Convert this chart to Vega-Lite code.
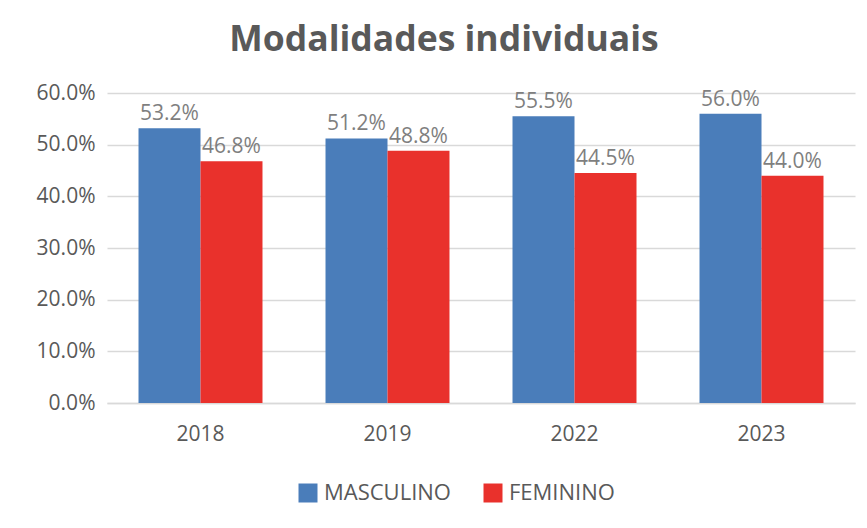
{
  "$schema": "https://vega.github.io/schema/vega-lite/v6.json",
  "width": 748,
  "height": 310,
  "autosize": {"type": "none"},
  "padding": {"left": 107, "top": 93, "right": 12, "bottom": 125},
  "background": "white",
  "title": {
    "text": "Modalidades individuais",
    "font": "Open Sans",
    "fontSize": 35.5,
    "fontWeight": "bold",
    "color": "#595959",
    "anchor": "middle",
    "frame": "group",
    "baseline": "alphabetic",
    "offset": 41,
    "dx": -37,
    "dy": 45
  },
  "data": {
    "values": [
      {"ano": "2018", "sexo": "MASCULINO", "valor": 0.532},
      {"ano": "2018", "sexo": "FEMININO", "valor": 0.468},
      {"ano": "2019", "sexo": "MASCULINO", "valor": 0.512},
      {"ano": "2019", "sexo": "FEMININO", "valor": 0.488},
      {"ano": "2022", "sexo": "MASCULINO", "valor": 0.555},
      {"ano": "2022", "sexo": "FEMININO", "valor": 0.445},
      {"ano": "2023", "sexo": "MASCULINO", "valor": 0.56},
      {"ano": "2023", "sexo": "FEMININO", "valor": 0.44}
    ]
  },
  "encoding": {
    "x": {
      "field": "ano",
      "type": "nominal",
      "scale": {"paddingInner": 0.337, "paddingOuter": 0.1685},
      "axis": {
        "title": null,
        "labelAngle": 0,
        "ticks": false,
        "labelPadding": 20,
        "labelFont": "Open Sans",
        "labelFontSize": 21,
        "labelColor": "#595959",
        "domainColor": "#D9D9D9",
        "domainWidth": 1.5,
        "grid": false
      }
    },
    "xOffset": {
      "field": "sexo",
      "type": "nominal",
      "scale": {"domain": ["MASCULINO", "FEMININO"], "paddingInner": 0, "paddingOuter": 0}
    },
    "y": {
      "field": "valor",
      "type": "quantitative",
      "scale": {"domain": [0, 0.6], "nice": false},
      "axis": {
        "title": null,
        "values": [0, 0.1, 0.2, 0.3, 0.4, 0.5, 0.6],
        "format": ".1%",
        "ticks": false,
        "domain": false,
        "labelPadding": 12,
        "labelFont": "Open Sans",
        "labelFontSize": 21,
        "labelColor": "#595959",
        "gridColor": "#D9D9D9",
        "gridWidth": 1.5
      }
    }
  },
  "layer": [
    {
      "mark": {"type": "bar"},
      "encoding": {
        "color": {
          "field": "sexo",
          "type": "nominal",
          "scale": {"domain": ["MASCULINO", "FEMININO"], "range": ["#4A7DBA", "#E9312C"]},
          "legend": {
            "title": null,
            "orient": "none",
            "direction": "horizontal",
            "legendX": 190,
            "legendY": 389,
            "symbolType": "square",
            "symbolSize": 361,
            "symbolStrokeWidth": 0,
            "labelFont": "Open Sans",
            "labelFontSize": 22,
            "labelColor": "#595959",
            "labelOffset": 5,
            "columnPadding": 31
          }
        }
      }
    },
    {
      "mark": {"type": "text", "baseline": "alphabetic", "dy": -8, "font": "Open Sans", "fontSize": 21, "color": "#7F7F7F"},
      "encoding": {
        "text": {"field": "valor", "type": "quantitative", "format": ".1%"}
      }
    }
  ],
  "config": {"view": {"stroke": null}}
}
